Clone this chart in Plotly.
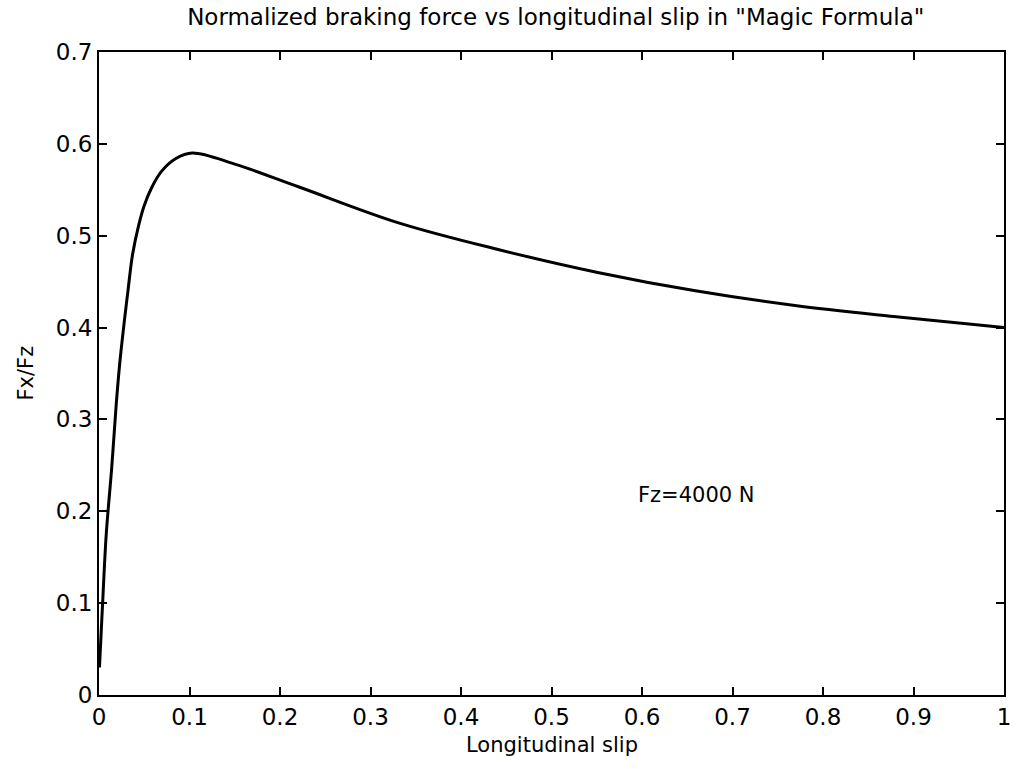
import plotly.graph_objects as go

# Data
slip = [0.0005, 0.001, 0.004, 0.008, 0.014, 0.019, 0.023, 0.028, 0.032, 0.037,
        0.044, 0.050, 0.058, 0.069, 0.085, 0.103, 0.150, 0.221, 0.331, 0.441,
        0.551, 0.659, 0.769, 0.878, 1.000]
fx_fz = [0.03, 0.04, 0.10, 0.175, 0.247, 0.316, 0.362, 0.407, 0.440, 0.479,
         0.512, 0.533, 0.552, 0.570, 0.584, 0.590, 0.578, 0.553, 0.514, 0.485,
         0.460, 0.440, 0.424, 0.412, 0.400]

x_ticks = [0, 0.1, 0.2, 0.3, 0.4, 0.5, 0.6, 0.7, 0.8, 0.9, 1]
x_ticklabels = ["0", "0.1", "0.2", "0.3", "0.4", "0.5", "0.6", "0.7", "0.8", "0.9", "1"]
y_ticks = [0, 0.1, 0.2, 0.3, 0.4, 0.5, 0.6, 0.7]
y_ticklabels = ["0", "0.1", "0.2", "0.3", "0.4", "0.5", "0.6", "0.7"]

FONT = "DejaVu Sans, Liberation Sans, Arial, sans-serif"

fig = go.Figure()
fig.add_trace(go.Scatter(
    x=slip, y=fx_fz, mode="lines",
    line=dict(color="black", width=3, shape="spline", smoothing=1.0),
    showlegend=False, hoverinfo="skip",
))

axis_common = dict(
    showgrid=False, zeroline=False, showline=True, linecolor="black",
    linewidth=2, mirror="ticks", ticks="inside", ticklen=8, tickwidth=1.5,
    tickcolor="black", tickfont=dict(family=FONT, size=23, color="black"),
    ticklabeloverflow="allow",
)

fig.update_layout(
    width=1016, height=769,
    margin=dict(l=99, r=5, t=52, b=74),
    paper_bgcolor="white", plot_bgcolor="white",
    font=dict(family=FONT, color="black"),
    title=dict(
        text='Normalized braking force vs longitudinal slip in "Magic Formula"',
        x=0.547, xanchor="center", y=1 - 17 / 769, yanchor="middle",
        font=dict(family=FONT, size=23, color="black"),
    ),
    xaxis=dict(range=[0, 1], tickvals=x_ticks, ticktext=x_ticklabels, **axis_common),
    yaxis=dict(range=[0, 0.7], tickvals=y_ticks, ticktext=y_ticklabels, **axis_common),
    annotations=[
        dict(text="Longitudinal slip", xref="paper", yref="paper",
             x=0.5, y=0, xanchor="center", yanchor="middle", yshift=-50,
             showarrow=False, font=dict(family=FONT, size=21, color="black")),
        dict(text="Fx/Fz", xref="paper", yref="paper",
             x=0, y=0.5, xanchor="center", yanchor="middle", xshift=-74,
             textangle=-90, showarrow=False,
             font=dict(family=FONT, size=21, color="black")),
        dict(text="Fz=4000 N", xref="x", yref="y",
             x=0.593, y=0.218, xanchor="left", yanchor="middle",
             showarrow=False, font=dict(family=FONT, size=21, color="black")),
    ],
)

fig.write_html("out.html")
